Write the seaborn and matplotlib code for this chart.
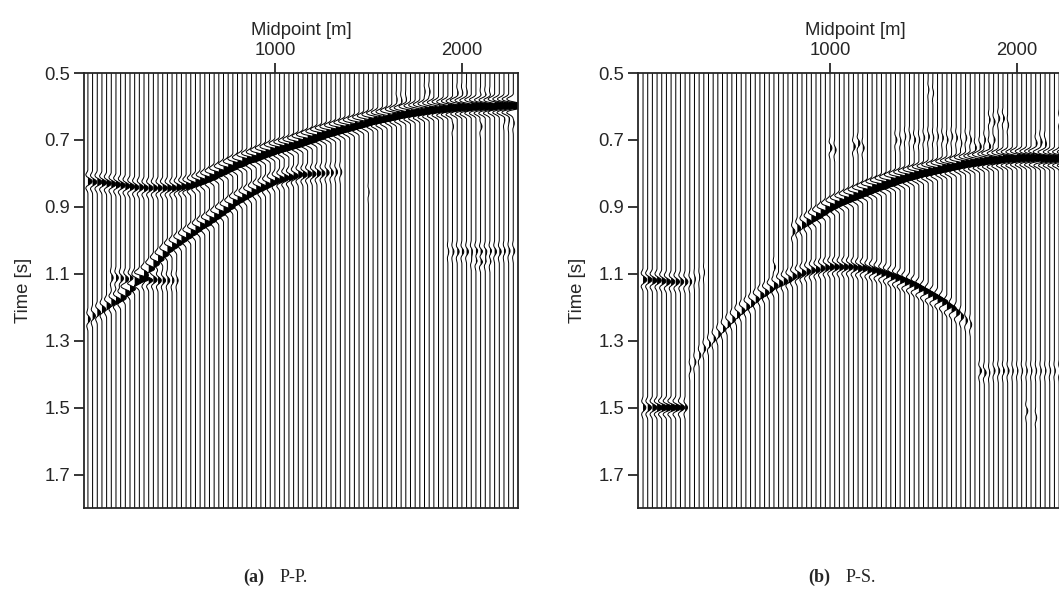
#!/usr/bin/env python3
"""Wiggle sections of the P-P and P-S stacks, with events picked trace by trace."""

import numpy as np
import pandas as pd
import matplotlib
matplotlib.use("Agg")
import matplotlib.pyplot as plt
import seaborn as sns

# ------------------------- Data ------------------------- #
trace_midpoints = list(range(0, 2300, 25))  # 92 traces, 25 m apart
time_ticks = [0.5, 0.7, 0.9, 1.1, 1.3, 1.5, 1.7]
midpoint_ticks = [1000, 2000]
sample_times = np.arange(651) * 0.002 + 0.5

# wavelet sampled every 2 ms, peak in the middle
wavelet = [0, -.02, -.06, -.12, -.2, -.3, -.4, -.48, -.5, -.46, -.38, -.24, 0, .25, .5, .72, .88,
           .97, 1, .97, .88, .72, .5, .25, 0, -.24, -.38, -.46, -.5, -.48, -.4, -.3, -.2, -.12,
           -.06, -.02, 0]

# P-P events: first trace index, one time per trace, one amplitude per trace
pp_main_start = 0
pp_main_time = [.825, .826, .827, .829, .831, .833, .835, .837, .839, .841,
                .842, .843, .844, .845, .845, .845, .845, .845, .844, .843,
                .841, .838, .834, .829, .824, .818, .811, .804, .797, .790,
                .783, .777, .771, .765, .760, .755, .750, .745, .740, .735,
                .731, .727, .722, .718, .714, .709, .704, .699, .694, .689,
                .684, .680, .676, .672, .667, .663, .659, .655, .651, .648,
                .644, .641, .638, .635, .632, .629, .626, .623, .620, .618,
                .616, .614, .612, .610, .608, .607, .606, .605, .604, .603,
                .602, .602, .601, .601, .600, .600, .600, .599, .599, .599, .598, .598]
pp_main_amp = [.9, .9, 1, 1, 1, 1, 1, 1, 1, 1, .9, .9, .9, .9, .9, .9,
               1, 1, 1, 1.1, 1.2, 1.4, 1.5, 1.6, 1.7, 1.8,
               1.9, 2.0, 2.0, 2.1, 2.1, 2.2, 2.2, 2.3, 2.3, 2.3, 2.4, 2.4, 2.4, 2.5, 2.5, 2.5,
               2.5, 2.6, 2.6, 2.7] + [2.8] * 46

pp_lower_start = 0
pp_lower_time = [1.235, 1.226, 1.216, 1.206, 1.196, 1.186, 1.179, 1.172, 1.158, 1.143,
                 1.129, 1.114, 1.1, 1.086, 1.071, 1.057, 1.042, 1.028, 1.018, 1.008,
                 .998, .988, .978, .968, .959, .95, .94, .93, .92, .91,
                 .899, .888, .88, .871, .863, .855, .849, .843, .836, .829,
                 .822, .818, .815, .811, .807, .804, .803, .802, .801, .8,
                 .799, .798, .797, .796, .795]
pp_lower_amp = [.5, .6, .7, .8, .9, 1, 1.1, 1.2, 1.2, 1.3,
                1.3, 1.3, 1.3, 1.3, 1.3, 1.3, 1.3, 1.3, 1.3, 1.3,
                1.3, 1.4, 1.4, 1.4, 1.4, 1.5, 1.5, 1.5, 1.5, 1.5,
                1.5, 1.5, 1.5, 1.4, 1.4, 1.4, 1.4, 1.3, 1.3, 1.3,
                1.2, 1.2, 1.1, 1.1, 1, 1, .9, .9, .8, .8,
                .7, .6, .5, .4, .3]

pp_side_start = 5
pp_side_time = [1.112, 1.113, 1.114, 1.115, 1.116, 1.117, 1.118, 1.118, 1.118, 1.118, 1.119, 1.12, 1.12, 1.12, 1.12]
pp_side_amp = [.4, .5, .6, .7, .8, .9, .9, .9, .9, .8, .7, .6, .5, .4, .3]

pp_far_start = 77
pp_far_time = [1.035, 1.035, 1.035, 1.034, 1.034, 1.034, 1.035, 1.036, 1.036, 1.035, 1.034, 1.034, 1.033, 1.033, 1.033]
pp_far_amp = [.2, .3, .4, .4, .4, .4, .5, .5, .5, .4, .4, .4, .3, .3, .3]

pp_noise_trace = [82, 83, 84, 85, 86, 72, 73, 79, 80, 81, 84, 85, 86, 90, 91, 66, 67, 68, 78, 84, 60, 89, 90]
pp_noise_time = [1.055, 1.058, 1.062, 1.058, 1.06, .555, .555, .56, .56, .558, .572, .57, .572, .645, .65,
                 .58, .585, .58, .66, .66, .855, .64, .63]
pp_noise_amp = [.3, .4, .5, .4, .3, .15, .2, .2, .2, .15, .2, .25, .2, .2, .2, .15, .2, .15, .2, .3, .15, .2, .2]

# P-S events
ps_main_start = 32
ps_main_time = [.975, .965, .955, .946, .936, .927, .918, .909, .900, .893,
                .886, .880, .874, .868, .862, .856, .850, .845, .840, .835,
                .830, .825, .820, .816, .812, .808, .804, .800, .797, .794,
                .791, .788, .785, .782, .779, .776, .773, .770, .768, .766,
                .764, .762, .760, .759, .758, .757, .756, .755, .754, .754,
                .754, .754, .754, .755, .755, .756, .756, .757, .757, .758]
ps_main_amp = [.5, .7, .9, 1.1, 1.3, 1.5, 1.6, 1.7, 1.8, 1.9, 2, 2.1, 2.2, 2.3, 2.4, 2.5, 2.6, 2.7] + [2.8] * 42

ps_arch_start = 10
ps_arch_time = [1.385, 1.365, 1.345, 1.325, 1.31, 1.295, 1.28, 1.265, 1.25, 1.235,
                1.222, 1.21, 1.198, 1.187, 1.176, 1.165, 1.155, 1.146, 1.137, 1.129,
                1.122, 1.115, 1.109, 1.103, 1.098, 1.094, 1.09, 1.087, 1.084, 1.082,
                1.081, 1.08, 1.08, 1.08, 1.081, 1.082, 1.083, 1.085, 1.087, 1.09,
                1.094, 1.098, 1.102, 1.107, 1.112, 1.118, 1.124, 1.13, 1.137, 1.144,
                1.151, 1.159, 1.167, 1.176, 1.185, 1.195, 1.205, 1.216, 1.228, 1.24, 1.252]
ps_arch_amp = [.25, .3, .35, .4, .45, .5, .55, .6, .65, .7,
               .75, .8, .8, .85, .85, .9, .9, .9, .9, .9,
               .9, .9, .9, .9, .9, .9, .9, .9, .95, .95,
               1, 1, 1, 1, 1, 1, 1.1, 1.1, 1.1, 1.2,
               1.2, 1.2, 1.2, 1.3, 1.3, 1.3, 1.3, 1.3, 1.3, 1.3,
               1.3, 1.3, 1.3, 1.2, 1.2, 1.1, 1, .8, .6, .4, .3]

ps_side_start = 0
ps_side_time = [1.118, 1.118, 1.12, 1.12, 1.122, 1.124, 1.125, 1.125, 1.125, 1.125, 1.124, 1.115, 1.11, 1.095]
ps_side_amp = [.8, .9, 1, .9, .9, .9, .8, .8, .7, .6, .4, .2, .15, .15]

ps_deep_start = 0
ps_deep_time = [1.5, 1.5, 1.5, 1.5, 1.5, 1.5, 1.5, 1.5, 1.5, 1.5]
ps_deep_amp = [.6, .8, 1, 1.2, 1.4, 1.4, 1.4, 1.2, .9, .5]

ps_far_start = 72
ps_far_time = [1.39, 1.395, 1.395, 1.39, 1.39, 1.39, 1.39, 1.39, 1.39, 1.39, 1.39, 1.39, 1.39, 1.39, 1.39, 1.39, 1.39, 1.39, 1.39, 1.39]
ps_far_amp = [.4, .4, .2, .3, .3, .3, .3, .2, .2, .2, .2, .2, .2, .2, .2, .2, .2, .2, .2, .2]

ps_noise_trace = [45, 46, 47, 54, 55, 56, 57, 58, 59, 60, 61, 62, 63, 64, 65, 66, 67, 68, 69, 70, 71, 72, 73, 74, 75,
                  74, 75, 76, 77, 78, 84, 85, 86, 89, 90, 85, 86, 40, 41, 61, 62, 28, 82, 84]
ps_noise_time = [.72, .71, .725, .70, .705, .69, .69, .70, .70, .695, .69, .695, .69, .695, .70, .69, .695, .71, .695,
                 .70, .725, .72, .70, .72, .70, .64, .645, .635, .635, .655, .71, .715, .705, .64, .63, .70, .72,
                 .725, .73, .55, .56, 1.08, 1.51, 1.53]
ps_noise_amp = [.4, .4, .3, .3, .2, .2, .2, .3, .2, .25, .25, .2, .2, .25, .25, .25, .25, .2, .25, .25, .3, .35, .25,
                .35, .3, .25, .3, .3, .3, .2, .3, .3, .3, .2, .2, .3, .3, .4, .3, .15, .15, .3, .3, .2]


# ------------------------- Helpers ------------------------- #
def add_event(section, start, times, amps):
    half = len(wavelet) // 2
    for k, (t, a) in enumerate(zip(times, amps)):
        idx = int(round((t - 0.5) / 0.002))
        section[start + k, idx - half:idx + half + 1] += a * np.array(wavelet)


def build_section(events, noise):
    section = np.zeros((len(trace_midpoints), len(sample_times)))
    for start, times, amps in events:
        add_event(section, start, times, amps)
    for tr, t, a in zip(*noise):
        add_event(section, tr, [t], [a])
    return section


def draw_section(ax, section, xlim):
    rows = []
    for i, m in enumerate(trace_midpoints):
        rows.append(pd.DataFrame({"trace": i, "base": m, "t": sample_times,
                                  "x": m + np.clip(section[i], -3, 3) * 25}))
    df = pd.concat(rows, ignore_index=True)

    sns.lineplot(data=df, x="x", y="t", units="trace", estimator=None, sort=False,
                 color="black", lw=0.72, legend=False, ax=ax)
    for _, g in df.groupby("trace"):
        ax.fill_betweenx(g["t"], g["base"], g["x"], where=g["x"] > g["base"],
                         color="black", lw=0, interpolate=True)

    ax.set_xlim(*xlim)
    ax.set_ylim(1.8, 0.5)
    ax.set_yticks(time_ticks, [f"{t:.1f}" for t in time_ticks])
    ax.set_xticks(midpoint_ticks, [str(m) for m in midpoint_ticks])
    ax.xaxis.tick_top()
    ax.xaxis.set_label_position("top")
    ax.set_xlabel("Midpoint [m]", fontsize=13.3, labelpad=5)
    ax.set_ylabel("Time [s]", fontsize=13.3, labelpad=9)
    ax.tick_params(length=7, width=1.3, labelsize=13.3, pad=3)
    for s in ax.spines.values():
        s.set_visible(True)
        s.set_linewidth(1.3)


# ------------------------- Plotting ------------------------- #
sns.set_theme(style="ticks")
plt.rcParams["font.family"] = ["Liberation Sans", "DejaVu Sans"]

W, H = 1059, 592
fig = plt.figure(figsize=(W / 100, H / 100), dpi=100)
ax_pp = fig.add_axes([84 / W, 1 - 508 / H, 434 / W, 435 / H])
ax_ps = fig.add_axes([638 / W, 1 - 508 / H, 434 / W, 435 / H])

pp = build_section(
    [(pp_main_start, pp_main_time, pp_main_amp),
     (pp_lower_start, pp_lower_time, pp_lower_amp),
     (pp_side_start, pp_side_time, pp_side_amp),
     (pp_far_start, pp_far_time, pp_far_amp)],
    (pp_noise_trace, pp_noise_time, pp_noise_amp))
ps = build_section(
    [(ps_main_start, ps_main_time, ps_main_amp),
     (ps_arch_start, ps_arch_time, ps_arch_amp),
     (ps_side_start, ps_side_time, ps_side_amp),
     (ps_deep_start, ps_deep_time, ps_deep_amp),
     (ps_far_start, ps_far_time, ps_far_amp)],
    (ps_noise_trace, ps_noise_time, ps_noise_amp))

draw_section(ax_pp, pp, (-21, 2300))
draw_section(ax_ps, ps, (-27, 2294))

# captions: bold tag plus regular text
for x_tag, x_txt, tag, txt in [(243, 280, "(a)", "P-P."), (808, 846, "(b)", "P-S.")]:
    fig.text(x_tag / W, 1 - 577 / H, tag, family="Liberation Serif", weight="bold",
             fontsize=13, va="center")
    fig.text(x_txt / W, 1 - 577 / H, txt, family="Liberation Serif", fontsize=13, va="center")

fig.savefig("out.png", dpi=100)
